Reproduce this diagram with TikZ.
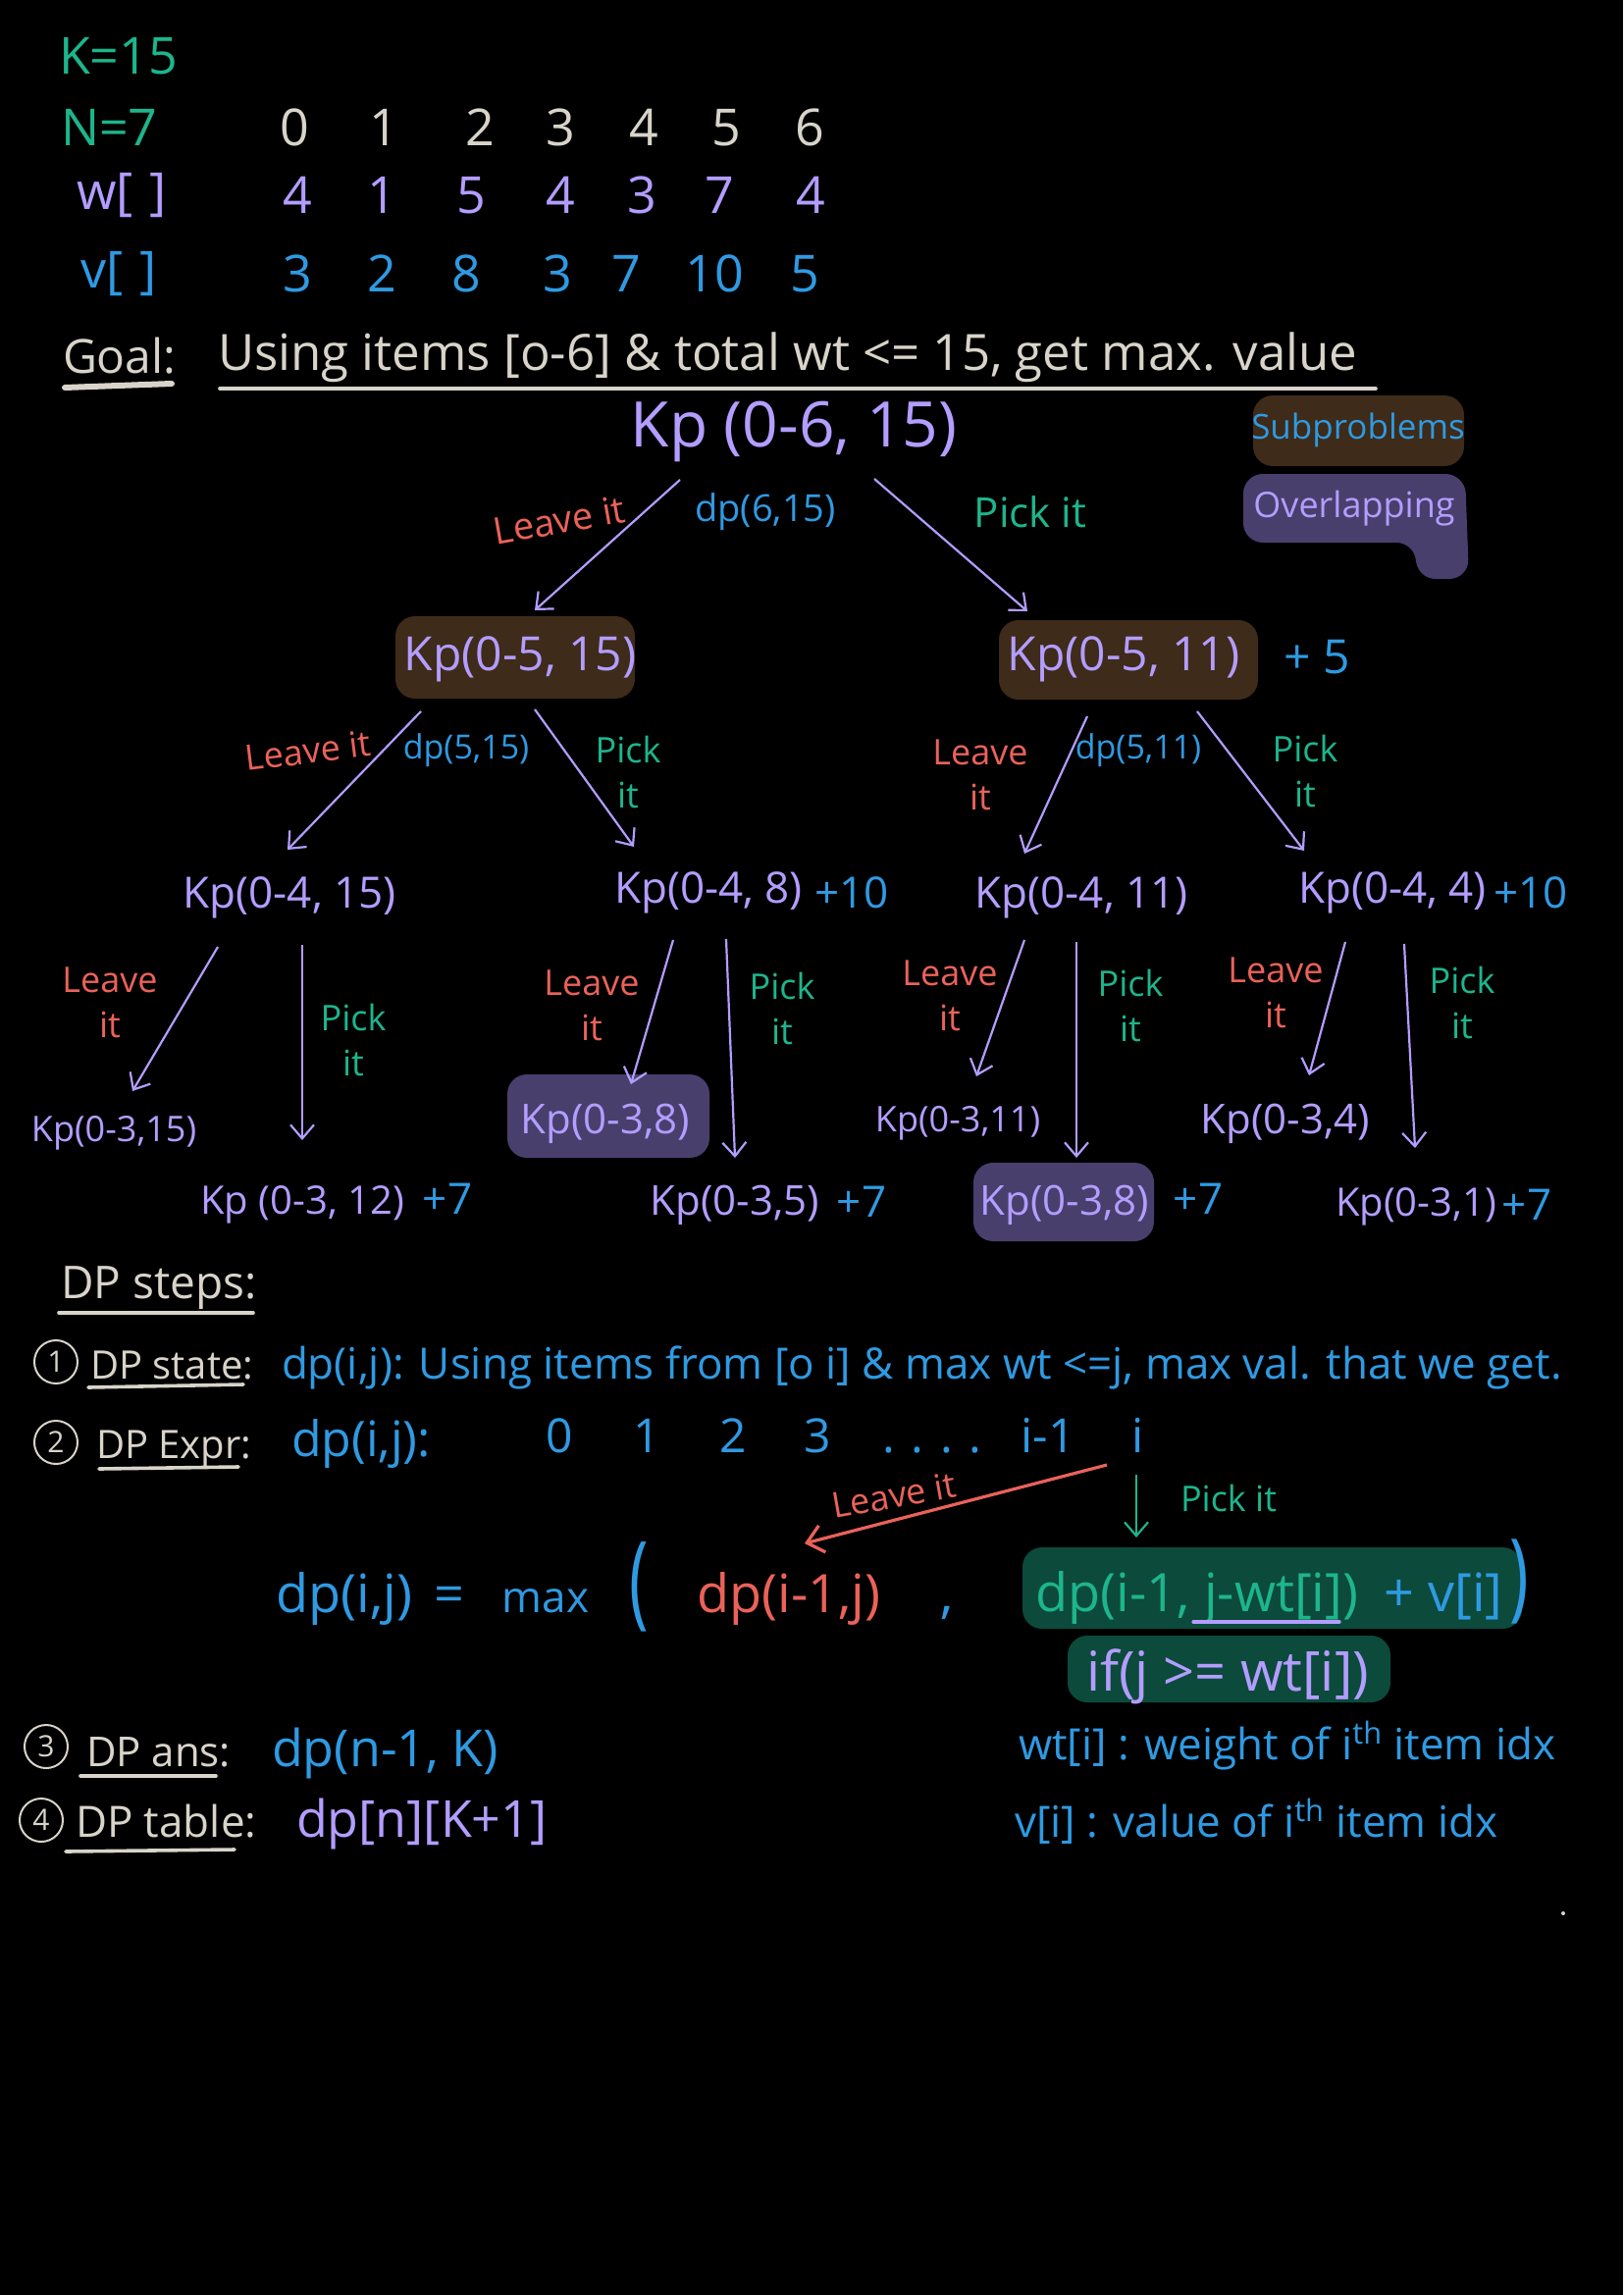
\documentclass[tikz,border=0pt]{standalone}
\usepackage{fontspec}
\setmainfont{Open Sans}
\usetikzlibrary{arrows.meta,calc}
\definecolor{pur}{HTML}{B39DFF}
\definecolor{blu}{HTML}{2F9AE2}
\definecolor{grn}{HTML}{1DB58C}
\definecolor{redc}{HTML}{EA6259}
\definecolor{wht}{HTML}{D8D4CA}
\definecolor{brn}{HTML}{3E2B19}
\definecolor{phl}{HTML}{493F6D}
\definecolor{ghl}{HTML}{0C4A3C}
\newcommand\fz[2]{\fontsize{#1}{#2}\selectfont}
\begin{document}
\begin{tikzpicture}[x=0.5pt,y=-0.5pt,
  t/.style={inner sep=0pt,outer sep=0pt},
  pu/.style={t,text=pur},
  bl/.style={t,text=blu},
  gr/.style={t,text=grn},
  rd/.style={t,text=redc},
  wh/.style={t,text=wht},
  arr/.style={draw=pur,line width=1.1pt,-{Straight Barb[length=7pt,width=12pt]}},
  ul/.style={draw=wht,line width=1.8pt,line cap=round},
  hl/.style={rounded corners=10pt},
  lab/.style={t,align=center,font=\fz{18}{23}},
  cnum/.style={draw=wht,circle,line width=1pt,text=wht,inner sep=0pt,minimum size=22pt,font=\fz{15}{15}},
]
\fill[black] (0,0) rectangle (1654,2339);
\useasboundingbox (0,0) rectangle (1654,2339);

% highlights
\fill[brn,hl] (1277,403) rectangle (1492,475);
\fill[phl,rounded corners=10pt] (1267,483) -- (1493,483) -- (1497,590) -- (1443,590) -- (1443,553) -- (1267,553) -- cycle;
\fill[brn,hl] (403,628) rectangle (647,712);
\fill[brn,hl] (1018,632) rectangle (1282,713);
\fill[phl,hl] (517,1095) rectangle (723,1180);
\fill[phl,hl] (992,1185) rectangle (1176,1265);
\fill[ghl,hl] (1042,1577) rectangle (1551,1660);
\fill[ghl,hl] (1088,1667) rectangle (1417,1735);

% header
\node[gr,anchor=west,font=\fz{26}{26}] (kv) at (60,57) {K=15};
\node[gr,anchor=west,font=\fz{26}{26}] (nv) at (62,130) {N=7};
\foreach \x/\d [count=\i] in {300/0,391/1,489/2,571/3,656/4,740/5,825/6}
  \node[wh,font=\fz{26}{26}] (ix\i) at (\x,130) {\d};
\node[pu,anchor=west,font=\fz{26}{26}] (wl) at (78,199) {w[\,\,]};
\foreach \x/\d [count=\i] in {303/4,389/1,480/5,571/4,654/3,733/7,826/4}
  \node[pu,font=\fz{26}{26}] (w\i) at (\x,199) {\d};
\node[bl,anchor=west,font=\fz{26}{26}] (vl) at (82,279) {v[\,\,]};
\foreach \x/\d [count=\i] in {303/3,389/2,475/8,568/3,638/7,728/10,820/5}
  \node[bl,font=\fz{26}{26}] (v\i) at (\x,279) {\d};

\node[wh,anchor=base west,font=\fz{24}{24}] (goal) at (64,380) {Goal:};
\draw[wht,line width=3pt,line cap=round] (66,395) -- (175,391);
\node[wh,anchor=base west,font=\fz{25.5}{25.5}] (goalt) at (222,377) {Using items [o-6] \& total wt <= 15, get max. value};
\draw[ul] (224,396) -- (1402,396);

% tree
\node[pu,font=\fz{32}{32}] (root) at (809,440) {Kp (0-6, 15)};
\node[bl,font=\fz{17.5}{17.5}] (sub) at (1384,438) {Subproblems};
\node[pu,font=\fz{18}{18}] (ovl) at (1380,518) {Overlapping};

\node[pu,font=\fz{24}{24}] (l1a) at (530,672) {Kp(0-5, 15)};
\node[pu,font=\fz{24}{24}] (l1b) at (1145,672) {Kp(0-5, 11)};
\node[bl,font=\fz{24}{24}] (p5) at (1342,670) {+ 5};

\node[rd,font=\fz{19}{19},rotate=10] (lv0) at (570,530) {Leave it};
\node[bl,font=\fz{19}{19}] (dp0) at (780,522) {dp(6,15)};
\node[gr,font=\fz{21}{21}] (pk0) at (1050,522) {Pick it};

\draw[arr] ($(root)+(-116,49)$) -- ($(l1a)+(15,-50)$);
\draw[arr] ($(root)+(82,48)$) -- ($(l1b)+(-98,-49)$);

\node[rd,font=\fz{18}{18},rotate=7] (lv1) at (314,765) {Leave it};
\node[bl,font=\fz{17}{17}] (dp1) at (475,765) {dp(5,15)};
\node[gr,lab] (pk1) at (640,787) {Pick\\it};
\node[rd,lab] (lv2) at (999,790) {Leave\\it};
\node[bl,font=\fz{17}{17}] (dp2) at (1160,765) {dp(5,11)};
\node[gr,lab] (pk2) at (1330,786) {Pick\\it};

\node[pu,font=\fz{22}{22}] (l2a) at (295,915) {Kp(0-4, 15)};
\node[pu,font=\fz{22}{22}] (l2b) at (722,910) {Kp(0-4, 8)};
\node[bl,font=\fz{22}{22}] (p10a) at (868,910) {+10};
\node[pu,font=\fz{22}{22}] (l2c) at (1102,915) {Kp(0-4, 11)};
\node[pu,font=\fz{22}{22}] (l2d) at (1419,910) {Kp(0-4, 4)};
\node[bl,font=\fz{22}{22}] (p10b) at (1560,910) {+10};

\draw[arr] ($(l1a)+(-101,53)$) -- ($(l2a)+(-2,-49)$);
\draw[arr] ($(l1a)+(15,51)$) -- ($(l2b)+(-76,-47)$);
\draw[arr] ($(l1b)+(-37,58)$) -- ($(l2c)+(-58,-45)$);
\draw[arr] ($(l1b)+(75,53)$) -- ($(l2d)+(-90,-43)$);

\node[rd,lab] (lvA) at (112,1022) {Leave\\it};
\node[gr,lab] (pkB) at (360,1060) {Pick\\it};
\node[rd,lab] (lvC) at (603,1025) {Leave\\it};
\node[gr,lab] (pkD) at (797,1028) {Pick\\it};
\node[rd,lab] (lvE) at (968,1015) {Leave\\it};
\node[gr,lab] (pkF) at (1152,1025) {Pick\\it};
\node[rd,lab] (lvG) at (1300,1012) {Leave\\it};
\node[gr,lab] (pkH) at (1490,1022) {Pick\\it};

\node[pu,font=\fz{18}{18}] (l3a) at (116,1155) {Kp(0-3,15)};
\node[pu,font=\fz{20}{20}] (l3b) at (308,1228) {Kp (0-3, 12)};
\node[bl,font=\fz{22}{22}] (p7a) at (456,1222) {+7};
\node[pu,font=\fz{21}{21}] (l3c) at (617,1145) {Kp(0-3,8)};
\node[pu,font=\fz{21}{21}] (l3d) at (749,1228) {Kp(0-3,5)};
\node[bl,font=\fz{22}{22}] (p7b) at (878,1225) {+7};
\node[pu,font=\fz{18}{18}] (l3e) at (976,1145) {Kp(0-3,11)};
\node[pu,font=\fz{21}{21}] (l3f) at (1085,1228) {Kp(0-3,8)};
\node[bl,font=\fz{22}{22}] (p7c) at (1221,1222) {+7};
\node[pu,font=\fz{21}{21}] (l3g) at (1310,1145) {Kp(0-3,4)};
\node[pu,font=\fz{20}{20}] (l3h) at (1443,1230) {Kp(0-3,1)};
\node[bl,font=\fz{22}{22}] (p7d) at (1556,1228) {+7};

\draw[arr] ($(l2a)+(-73,50)$) -- ($(l3a)+(19,-43)$);
\draw[arr] ($(l2a)+(13,48)$) -- ($(l3b)+(0,-66)$);
\draw[arr] ($(l2b)+(-36,48)$) -- ($(l3c)+(26,-40)$);
\draw[arr] ($(l2b)+(18,47)$) -- ($(l3d)+(0,-48)$);
\draw[arr] ($(l2c)+(-58,43)$) -- ($(l3e)+(19,-48)$);
\draw[arr] ($(l2c)+(-5,45)$) -- ($(l3f)+(12,-48)$);
\draw[arr] ($(l2d)+(-48,50)$) -- ($(l3g)+(24,-49)$);
\draw[arr] ($(l2d)+(12,52)$) -- ($(l3h)+(-1,-60)$);

% DP steps
\node[wh,anchor=base west,font=\fz{23}{23}] (steps) at (62,1323) {DP steps:};
\draw[ul] (60,1338) -- (258,1338);

\node[cnum] (c1) at (57,1388) {1};
\node[wh,anchor=base west,font=\fz{20}{20}] (st1) at (92,1405) {DP state:};
\draw[ul] (90,1414) -- (248,1411);
\node[bl,anchor=base west,font=\fz{22}{22}] (st1t) at (287,1405) {dp(i,j): Using items from [o i] \& max wt <=j, max val. that we get.};

\node[cnum] (c2) at (57,1470) {2};
\node[wh,anchor=base west,font=\fz{20}{20}] (st2) at (98,1486) {DP Expr:};
\draw[ul] (101,1497) -- (243,1495);
\node[bl,anchor=base west,font=\fz{25}{25}] (dpij) at (297,1484) {dp(i,j):};
\node[bl,anchor=base,font=\fz{24}{24}] (e0) at (570,1480) {0};
\node[bl,anchor=base,font=\fz{24}{24}] (e1) at (659,1480) {1};
\node[bl,anchor=base,font=\fz{24}{24}] (e2) at (747,1480) {2};
\node[bl,anchor=base,font=\fz{24}{24}] (e3) at (833,1480) {3};
\node[bl,anchor=base,font=\fz{24}{24}] (edots) at (950,1480) {. . . .};
\node[bl,anchor=base,font=\fz{24}{24}] (eim) at (1068,1480) {i-1};
\node[bl,anchor=base,font=\fz{24}{24}] (ei) at (1160,1480) {i};

% formula
\node[bl,anchor=base,font=\fz{27}{27}] (lhs) at (351,1643) {dp(i,j)};
\node[bl,anchor=base,font=\fz{27}{27}] (eq) at (458,1643) {=};
\node[bl,anchor=base,font=\fz{22}{22}] (mx) at (556,1643) {max};
\node[bl,font=\fz{30}{30}] (lp) at (651,1617) {\scalebox{1.1}[1.75]{(}};
\node[rd,anchor=base,font=\fz{27}{27}] (dpl) at (804,1643) {dp(i-1,j)};
\node[bl,anchor=base,font=\fz{27}{27}] (cm) at (965,1643) {,};
\node[gr,anchor=base,font=\fz{27}{27}] (dpr) at (1220,1642) {dp(i-1, j-wt[i])};
\draw[pur,line width=1.6pt,line cap=round] (1216,1653) -- (1365,1653);
\node[bl,anchor=base,font=\fz{27}{27}] (pv) at (1471,1642) {+ v[i]};
\node[bl,font=\fz{30}{30}] (rp) at (1548,1612) {\scalebox{1.1}[1.65]{)}};
\node[pu,anchor=base,font=\fz{28}{28}] (cond) at (1251,1723) {if(j >= wt[i])};

\draw[redc,line width=1.6pt,-{Straight Barb[length=8pt,width=14pt]}] ($(ei.base)+(-32,13)$) -- ($(dpl.base)+(16,-70)$);
\draw[grn,line width=1.1pt,-{Straight Barb[length=7pt,width=12pt]}] ($(ei.base)+(-2,23)$) -- ($(dpr.base)+(-62,-75)$);
\node[rd,font=\fz{18}{18},rotate=10] (lv3) at (911,1524) {Leave it};
\node[gr,font=\fz{18}{18}] (pk3) at (1252,1527) {Pick it};

\node[bl,anchor=base west,font=\fz{22}{22}] (n1) at (1038,1793) {wt[i] : weight of i\textsuperscript{th} item idx};
\node[bl,anchor=base west,font=\fz{22}{22}] (n2) at (1034,1872) {v[i] : value of i\textsuperscript{th} item idx};

\node[cnum] (c3) at (47,1780) {3};
\node[wh,anchor=base west,font=\fz{21}{21}] (st3) at (88,1800) {DP ans:};
\draw[ul] (82,1810) -- (220,1810);
\node[bl,anchor=base west,font=\fz{26}{26}] (ans) at (277,1800) {dp(n-1, K)};

\node[cnum] (c4) at (42,1855) {4};
\node[wh,anchor=base west,font=\fz{22}{22}] (st4) at (77,1872) {DP table:};
\draw[ul] (67,1887) -- (239,1885);
\node[pu,anchor=base west,font=\fz{26}{26}] (tbl) at (302,1872) {dp[n][K+1]};

\fill[wht] (1593,1950) circle (2);
\end{tikzpicture}
\end{document}
